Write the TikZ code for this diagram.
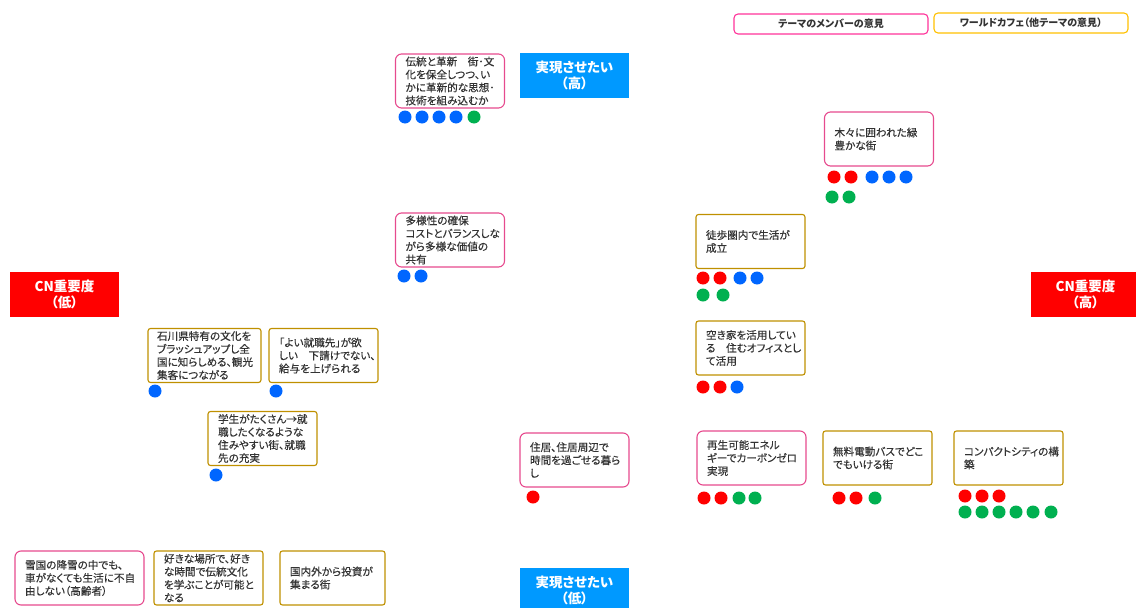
\documentclass[tikz,border=0pt]{standalone}
\usepackage{fontspec}
\setmainfont{Noto Sans CJK JP}[RawFeature={+palt}]
\newfontfamily\notefont{Noto Sans CJK JP}[RawFeature={+palt}, FakeBold=0.4]
\definecolor{pinkc}{HTML}{E64A8E}
\definecolor{goldc}{HTML}{BF9000}
\definecolor{legpink}{HTML}{FF3399}
\definecolor{leggold}{HTML}{FFC000}
\definecolor{txtgray}{HTML}{333333}
\definecolor{bannerblue}{HTML}{0099FF}
\definecolor{cnred}{HTML}{FF0000}
\definecolor{dred}{HTML}{FF0000}
\definecolor{dblue}{HTML}{0066FF}
\definecolor{dgreen}{HTML}{00B050}
\tikzset{
  notebase/.style={draw, align=left, inner xsep=10, inner ysep=0, minimum height=54,
    text width=89, font=\notefont\fontsize{10.6}{13}\selectfont, text=txtgray, line width=1.1pt},
  pinknote/.style={notebase, draw=pinkc, rounded corners=6},
  goldnote/.style={notebase, draw=goldc, rounded corners=2.5},
  banner/.style={text=white, font=\bfseries\fontsize{13.5}{16}\selectfont, align=center,
    minimum width=109, minimum height=45, inner sep=0},
  legbox/.style={draw, line width=1.1pt, rounded corners=4, minimum width=194, minimum height=20,
    inner sep=0, font=\bfseries\fontsize{10}{12}\selectfont, text=txtgray},
  dot/.style={circle, minimum size=13, inner sep=0, draw=none}
}
\begin{document}
\begin{tikzpicture}[x=1pt,y=-1pt]
\useasboundingbox (0,0) rectangle (1136,608);
% legend
\node[legbox, draw=legpink] (legm) at (831,24) {テーマのメンバーの意見};
\node[legbox, draw=leggold] (legw) at (1031,23) {ワールドカフェ（他テーマの意見）};
% banners
\node[banner, fill=bannerblue] (high) at (574.5,75.5) {実現させたい\\（高）};
\node[banner, fill=bannerblue] (low) at (574.5,590.5) {実現させたい\\（低）};
\node[banner, fill=cnred] (cnlow) at (64.5,294.5) {CN重要度\\（低）};
\node[banner, fill=cnred] (cnhigh) at (1085.5,294.5) {CN重要度\\（高）};
% notes
\node[pinknote] (n1) at (450,81) {伝統と革新　街･文\\化を保全しつつ、い\\かに革新的な思想･\\技術を組み込むか};
\node[pinknote] (n2) at (879,139) {木々に囲われた緑\\豊かな街};
\node[pinknote] (n3) at (450,240) {多様性の確保\\コストとバランスしな\\がら多様な価値の\\共有};
\node[goldnote] (n4) at (750.5,241.5) {徒歩圏内で生活が\\成立};
\node[goldnote] (n5) at (750.5,348) {空き家を活用してい\\る　住むオフィスとし\\て活用};
\node[goldnote, text width=95, inner xsep=9] (n6) at (204.5,355.5) {石川県特有の文化を\\ブラッシュアップし全\\国に知らしめる、観光\\集客につながる};
\node[goldnote] (n7) at (323.5,355.5) {「よい就職先」が欲\\しい　下請けでない、\\給与を上げられる};
\node[goldnote] (n8) at (262.5,438.5) {学生がたくさん→就\\職したくなるような\\住みやすい街、就職\\先の充実};
\node[pinknote] (n9) at (574.5,460) {住居、住居周辺で\\時間を過ごせる暮ら\\し};
\node[pinknote] (n10) at (751.5,458) {再生可能エネル\\ギーでカーボンゼロ\\実現};
\node[goldnote] (n11) at (877.5,458) {無料電動バスでどこ\\でもいける街};
\node[goldnote] (n12) at (1008.5,458) {コンパクトシティの構\\築};
\node[pinknote, text width=109] (n13) at (79.5,578) {雪国の降雪の中でも、\\車がなくても生活に不自\\由しない（高齢者）};
\node[goldnote] (n14) at (208.5,578) {好きな場所で、好き\\な時間で伝統文化\\を学ぶことが可能と\\なる};
\node[goldnote, text width=85] (n15) at (332.5,578) {国内外から投資が\\集まる街};
% dots
\foreach \x/\y/\c [count=\k] in {
  405/117/dblue, 422/117/dblue, 439/117/dblue, 456/117/dblue, 474/117/dgreen,
  834/177/dred, 851/177/dred, 872/177/dblue, 889/177/dblue, 906/177/dblue,
  832/197/dgreen, 849/197/dgreen,
  404/276/dblue, 421/276/dblue,
  703/278/dred, 720/278/dred, 740/278/dblue, 757/278/dblue,
  703/295/dgreen, 723/295/dgreen,
  703/387/dred, 720/387/dred, 737/387/dblue,
  155/391/dblue, 276/391/dblue, 216/475/dblue,
  533/497/dred,
  704/498/dred, 721/498/dred, 739/498/dgreen, 755/498/dgreen,
  839/498/dred, 856/498/dred, 875/498/dgreen,
  965/496/dred, 982/496/dred, 999/496/dred,
  965/512/dgreen, 982/512/dgreen, 999/512/dgreen, 1016/512/dgreen, 1033/512/dgreen, 1051/512/dgreen}
  {\node[dot, fill=\c] (dot\k) at (\x,\y) {};}
\end{tikzpicture}
\end{document}
